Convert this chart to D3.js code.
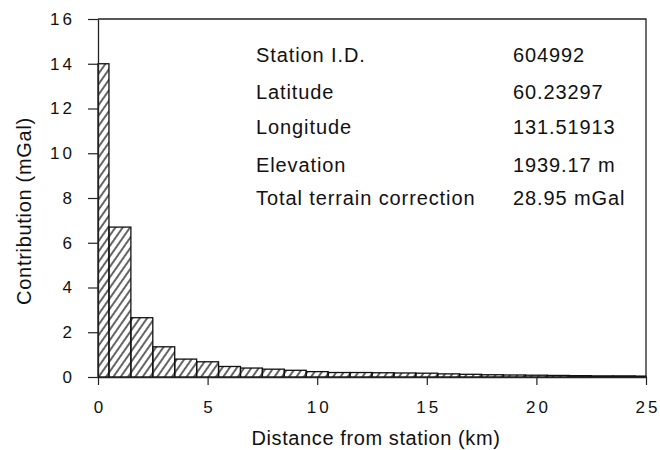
<!DOCTYPE html>
<html>
<head>
<meta charset="utf-8">
<script src="https://cdn.jsdelivr.net/npm/d3@7"></script>
<style>
  body { margin: 0; background: #fff; }
  text { font-family: "Liberation Sans", Arial, sans-serif; fill: #111; }
</style>
</head>
<body>
<script>
const width = 660,
  height = 450;

// bin centres (km) and terrain contribution (mGal)
const distances = [0, 1, 2, 3, 4, 5, 6, 7, 8, 9, 10, 11, 12, 13, 14, 15, 16, 17, 18, 19, 20, 21, 22, 23, 24, 25];
const contributions = [14.0, 6.7, 2.65, 1.35, 0.8, 0.68, 0.47, 0.4, 0.35, 0.3, 0.24, 0.2, 0.2, 0.19, 0.18, 0.17, 0.14, 0.12, 0.1, 0.09, 0.08, 0.07, 0.06, 0.05, 0.05, 0.04];
const xTicks = [0, 5, 10, 15, 20, 25];
const yTicks = [0, 2, 4, 6, 8, 10, 12, 14, 16];

const infoLabels = ["Station I.D.", "Latitude", "Longitude", "Elevation", "Total terrain correction"];
const infoValues = ["604992", "60.23297", "131.51913", "1939.17 m", "28.95 mGal"];

const margin = { top: 19, right: 14, bottom: 73, left: 98 };

const x = d3.scaleLinear().domain([0, 25]).range([margin.left, width - margin.right]);
const y = d3.scaleLinear().domain([0, 16]).range([height - margin.bottom, margin.top]);

const svg = d3.select("body").append("svg")
  .attr("width", width)
  .attr("height", height);

// diagonal hatching
svg.append("defs").append("pattern")
  .attr("id", "hatch")
  .attr("patternUnits", "userSpaceOnUse")
  .attr("width", 6)
  .attr("height", 6)
  .attr("patternTransform", "rotate(35)")
  .append("line")
  .attr("x1", 3).attr("y1", 0)
  .attr("x2", 3).attr("y2", 6)
  .attr("stroke", "#111")
  .attr("stroke-width", 1.3);

const bins = distances.map((d, i) => ({
  x0: Math.max(0, d - 0.5),
  x1: Math.min(25, d + 0.5),
  v: contributions[i]
}));

svg.append("g")
  .selectAll("rect")
  .data(bins)
  .join("rect")
  .attr("x", d => x(d.x0))
  .attr("y", d => y(d.v))
  .attr("width", d => x(d.x1) - x(d.x0))
  .attr("height", d => y(0) - y(d.v))
  .attr("fill", "url(#hatch)")
  .attr("stroke", "#111")
  .attr("stroke-width", 1.3);

// frame (top and right)
svg.append("path")
  .attr("d", `M${x(0)},${y(16)}H${x(25)}V${y(0)}`)
  .attr("fill", "none")
  .attr("stroke", "#222")
  .attr("stroke-width", 1.3);

const xAxis = svg.append("g")
  .attr("transform", `translate(0,${y(0)})`)
  .call(d3.axisBottom(x).tickValues(xTicks).tickSize(8).tickPadding(16).tickSizeOuter(0));

const yAxis = svg.append("g")
  .attr("transform", `translate(${x(0)},0)`)
  .call(d3.axisLeft(y).tickValues(yTicks).tickSize(10).tickPadding(13).tickSizeOuter(0));

[xAxis, yAxis].forEach(g => {
  g.select(".domain").attr("stroke", "#222").attr("stroke-width", 1.3);
  g.selectAll(".tick line").attr("stroke", "#222").attr("stroke-width", 1.2);
  g.selectAll(".tick text")
    .attr("font-size", 17)
    .attr("letter-spacing", 3)
    .attr("fill", "#111")
    .style("font-family", "Liberation Sans, Arial, sans-serif");
});
// keep x labels centred despite trailing letter spacing
xAxis.selectAll(".tick text").attr("dx", 1.5);

// axis titles
svg.append("text")
  .attr("x", 376)
  .attr("y", 445)
  .attr("text-anchor", "middle")
  .attr("font-size", 20)
  .attr("letter-spacing", 0.6)
  .text("Distance from station (km)");

svg.append("text")
  .attr("transform", "translate(31,211) rotate(-90)")
  .attr("text-anchor", "middle")
  .attr("font-size", 20)
  .attr("letter-spacing", 0.7)
  .text("Contribution (mGal)");

// station info block
const rowY = [62, 99, 134, 172, 205];
svg.append("g").selectAll("text")
  .data(infoLabels)
  .join("text")
  .attr("x", 256)
  .attr("y", (d, i) => rowY[i])
  .attr("font-size", 20)
  .attr("letter-spacing", 0.9)
  .text(d => d);

svg.append("g").selectAll("text")
  .data(infoValues)
  .join("text")
  .attr("x", 513)
  .attr("y", (d, i) => rowY[i])
  .attr("font-size", 20)
  .attr("letter-spacing", 0.9)
  .text(d => d);
</script>
</body>
</html>
